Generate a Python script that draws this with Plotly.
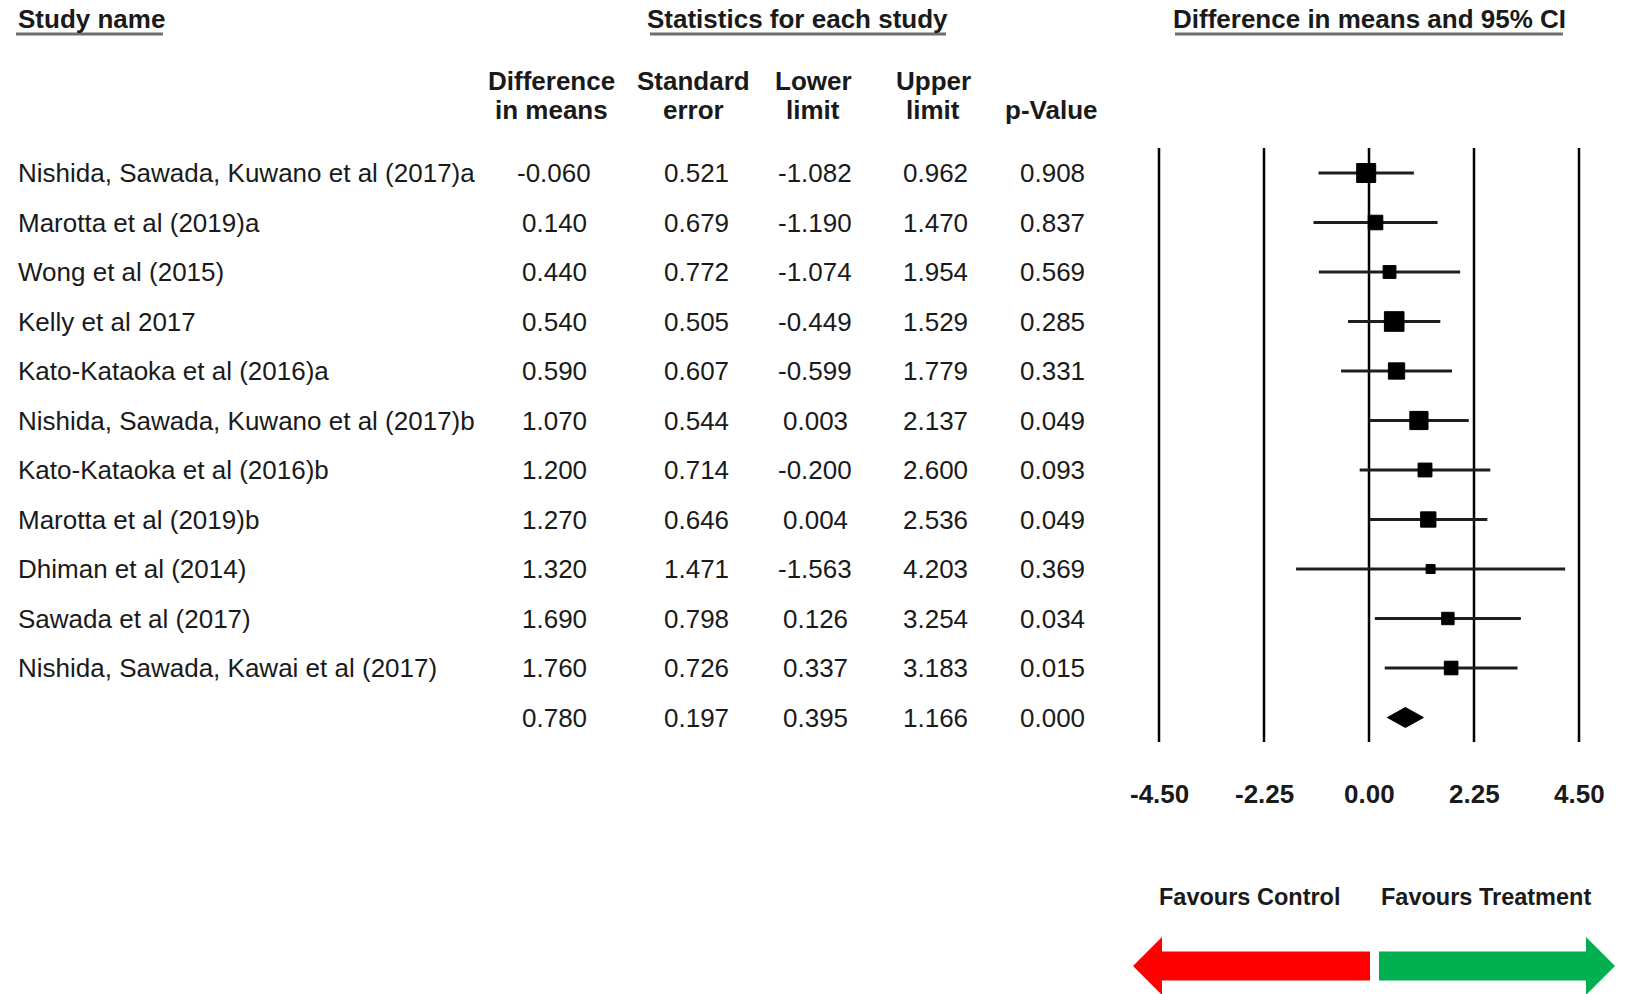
import plotly.graph_objects as go

# ---- study data -------------------------------------------------------
studies = [
    "Nishida, Sawada, Kuwano et al (2017)a",
    "Marotta et al (2019)a",
    "Wong et al (2015)",
    "Kelly et al 2017",
    "Kato-Kataoka et al (2016)a",
    "Nishida, Sawada, Kuwano et al (2017)b",
    "Kato-Kataoka et al (2016)b",
    "Marotta et al (2019)b",
    "Dhiman et al (2014)",
    "Sawada et al (2017)",
    "Nishida, Sawada, Kawai et al (2017)",
]
diff = [-0.060, 0.140, 0.440, 0.540, 0.590, 1.070, 1.200, 1.270, 1.320, 1.690, 1.760]
se = [0.521, 0.679, 0.772, 0.505, 0.607, 0.544, 0.714, 0.646, 1.471, 0.798, 0.726]
lower = [-1.082, -1.190, -1.074, -0.449, -0.599, 0.003, -0.200, 0.004, -1.563, 0.126, 0.337]
upper = [0.962, 1.470, 1.954, 1.529, 1.779, 2.137, 2.600, 2.536, 4.203, 3.254, 3.183]
pval = [0.908, 0.837, 0.569, 0.285, 0.331, 0.049, 0.093, 0.049, 0.369, 0.034, 0.015]

# pooled (fixed-effect) summary
pooled = {"diff": 0.780, "se": 0.197, "lower": 0.395, "upper": 1.166, "p": 0.000}

tick_vals = [-4.50, -2.25, 0.00, 2.25, 4.50]
tick_text = ["-4.50", "-2.25", "0.00", "2.25", "4.50"]

# ---- page geometry (pixels) -----------------------------------------
W, H = 1634, 994
ROW0, ROW_H = 173, 49.5           # centre of first row, row pitch
PLOT_LEFT = 1100                  # left edge of the forest panel
X_LO_PX, X_HI_PX = 1159, 1579     # pixel positions of -4.5 and 4.5

FONT = "Liberation Sans, Arial, sans-serif"
TXT = "#1a1a1a"
FS = 26

n = len(studies)
pooled_row = n

# forest x axis range so that tick -4.5 / 4.5 land on the panel lines
ppu = (X_HI_PX - X_LO_PX) / (tick_vals[-1] - tick_vals[0])
x_r0 = tick_vals[0] - (X_LO_PX - PLOT_LEFT) / ppu
x_r1 = x_r0 + (W - PLOT_LEFT) / ppu

# row axis: row i sits at ROW0 + i*ROW_H pixels from the top
y_top = -ROW0 / ROW_H
y_bot = (H - ROW0) / ROW_H


def py(p):
    """pixel y (from top) -> paper y"""
    return 1 - p / H


fig = go.Figure()

# confidence-interval whiskers
cx, cy = [], []
for i in range(n):
    cx += [lower[i], upper[i], None]
    cy += [i, i, None]
fig.add_trace(go.Scatter(x=cx, y=cy, mode="lines", xaxis="x", yaxis="y",
                         line=dict(color="#1e1e1e", width=3),
                         hoverinfo="skip", showlegend=False))

# study squares, side proportional to sqrt(inverse-variance weight)
sizes = [max(9.9 / s, 9) for s in se]
fig.add_trace(go.Scatter(x=diff, y=list(range(n)), mode="markers",
                         xaxis="x", yaxis="y",
                         marker=dict(symbol="square", size=sizes, color="black",
                                     opacity=1, line=dict(width=1, color="black")),
                         hoverinfo="skip", showlegend=False))

# pooled diamond
half = 10 / ROW_H
fig.add_trace(go.Scatter(
    x=[pooled["lower"], pooled["diff"], pooled["upper"], pooled["diff"], pooled["lower"]],
    y=[pooled_row, pooled_row - half, pooled_row, pooled_row + half, pooled_row],
    mode="lines", fill="toself", fillcolor="black",
    line=dict(color="black", width=1), xaxis="x", yaxis="y",
    hoverinfo="skip", showlegend=False))

# vertical reference lines at each tick
shapes = []
for v in tick_vals:
    shapes.append(dict(type="line", xref="x", yref="y", x0=v, x1=v,
                       y0=-0.505, y1=n + 0.495,
                       line=dict(color="black", width=2.5), layer="below"))

annotations = []

# table columns (x2 is a pixel-scale axis across the page)
col_x = {"diff": 554, "se": 696, "lower": 815, "upper": 935, "p": 1052}
col_vals = {
    "diff": diff + [pooled["diff"]],
    "se": se + [pooled["se"]],
    "lower": lower + [pooled["lower"]],
    "upper": upper + [pooled["upper"]],
    "p": pval + [pooled["p"]],
}
for key, vals in col_vals.items():
    for i, v in enumerate(vals):
        annotations.append(dict(x=col_x[key], y=i, xref="x2", yref="y",
                                text=f"{v:.3f}", showarrow=False,
                                xanchor="center", yanchor="middle",
                                font=dict(family=FONT, size=FS, color=TXT)))

for i, name in enumerate(studies):
    annotations.append(dict(x=16, y=i, xref="x2", yref="y", text=name,
                            showarrow=False, xanchor="left", yanchor="middle",
                            font=dict(family=FONT, size=FS, color=TXT)))


def header(text, x, y, anchor="center", size=FS):
    annotations.append(dict(x=x, y=py(y), xref="x2", yref="paper",
                            text=f"<b>{text}</b>", showarrow=False,
                            xanchor=anchor, yanchor="middle",
                            font=dict(family=FONT, size=size, color=TXT)))


header("Study name", 16, 19, anchor="left")
header("Statistics for each study", 797, 19)
header("Difference in means and 95% CI", 1369, 19)

for txt, x in [("Difference", 551), ("Standard", 693), ("Lower", 813), ("Upper", 933)]:
    header(txt, x, 81)
for txt, x in [("in means", 551), ("error", 693), ("limit", 813), ("limit", 933), ("p-Value", 1051)]:
    header(txt, x, 110)

header("Favours Control", 1249, 897, size=23.5)
header("Favours Treatment", 1486, 897, size=23.5)

# tick labels under the forest panel
for v, t in zip(tick_vals, tick_text):
    annotations.append(dict(x=v, y=py(794), xref="x", yref="paper",
                            text=f"<b>{t}</b>", showarrow=False,
                            xanchor="center", yanchor="middle",
                            font=dict(family=FONT, size=FS, color=TXT)))

# header underlines
for x0, x1 in [(16, 163), (650, 946), (1175, 1563)]:
    shapes.append(dict(type="line", xref="x2", yref="paper", x0=x0, x1=x1,
                       y0=py(34), y1=py(34), line=dict(color="#6e6e6e", width=3)))


def arrow(x_body, x_base, x_tip, yc, body_h, head_h, color):
    """block arrow from x_body to a head whose base is x_base and tip x_tip"""
    pts = [(x_body, yc - body_h), (x_base, yc - body_h), (x_base, yc - head_h),
           (x_tip, yc), (x_base, yc + head_h), (x_base, yc + body_h),
           (x_body, yc + body_h)]
    d = "M " + " L ".join(f"{x},{py(y)}" for x, y in pts) + " Z"
    return dict(type="path", xref="x2", yref="paper", path=d,
                fillcolor=color, line=dict(width=0))


shapes.append(arrow(1370, 1162, 1133, 966, 14.5, 29, "#ff0000"))
shapes.append(arrow(1379, 1586, 1615, 966, 14.5, 29, "#00b050"))

fig.update_layout(
    width=W, height=H,
    margin=dict(l=0, r=0, t=0, b=0),
    paper_bgcolor="white", plot_bgcolor="rgba(0,0,0,0)",
    showlegend=False,
    xaxis=dict(domain=[PLOT_LEFT / W, 1], range=[x_r0, x_r1], visible=False,
               fixedrange=True),
    xaxis2=dict(domain=[0, 1], range=[0, W], visible=False, anchor="y",
                fixedrange=True),
    yaxis=dict(domain=[0, 1], range=[y_bot, y_top], visible=False,
               fixedrange=True),
    shapes=shapes,
    annotations=annotations,
)

fig.write_html("out.html")
